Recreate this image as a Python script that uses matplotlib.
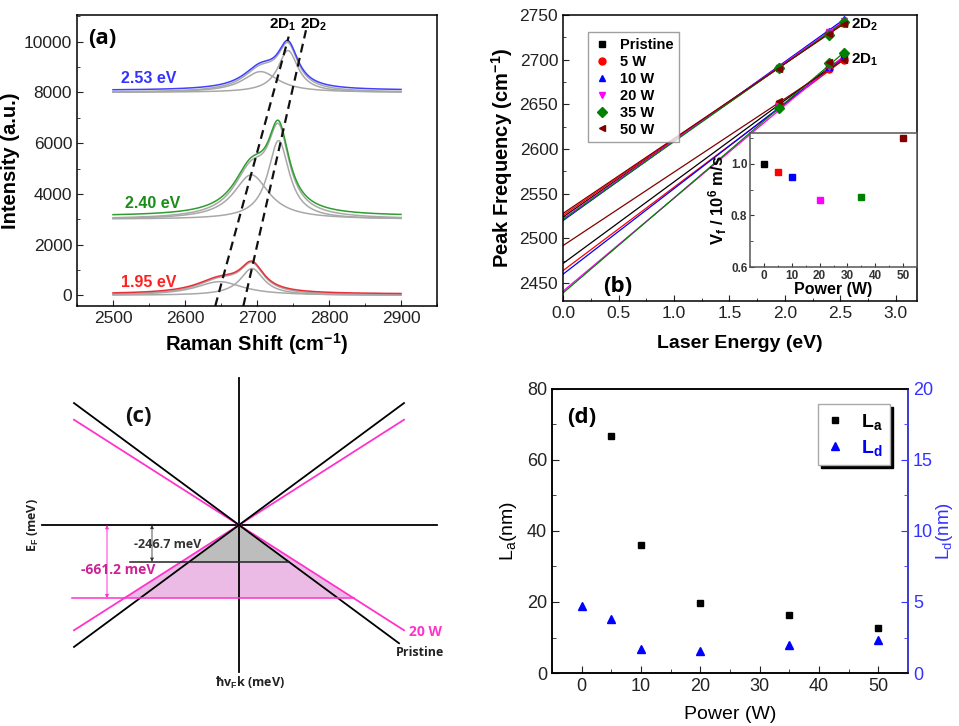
import numpy as np
import matplotlib
matplotlib.use("Agg")
import matplotlib.pyplot as plt
from matplotlib.ticker import MultipleLocator
from matplotlib.lines import Line2D

plt.rcParams['font.family'] = ['Liberation Sans', 'DejaVu Sans']
plt.rcParams['mathtext.fontset'] = 'custom'
plt.rcParams['mathtext.rm'] = 'Liberation Sans'
plt.rcParams['mathtext.bf'] = 'Liberation Sans:bold'
plt.rcParams['mathtext.it'] = 'Liberation Sans:italic'
plt.rcParams['axes.linewidth'] = 1.1

# ---------------- Panel (a) data: Lorentzian fit parameters ----------------
spec_labels = ['1.95 eV', '2.40 eV', '2.53 eV']
spec_offsets = [0, 3000, 8000]
spec_extra = [50, 120, 80]
pos_2D1 = [2648, 2692, 2705]
pos_2D2 = [2693, 2730, 2743]
amp_2D1 = [540, 1750, 820]
amp_2D2 = [1060, 3100, 1650]
fwhm_2D1 = [80, 60, 60]
fwhm_2D2 = [40, 36, 34]
spec_colors = ['#e8303a', '#2e9e2e', '#4040ff']
label_colors = ['#ff2020', '#1a8c1a', '#3333ff']
label_x = [2549, 2555, 2549]
label_y = [525, 3640, 8529]
dash_x_bottom = [2642, 2681]
dash_x_top = [2744, 2768]
dash_y_top = [10200, 10450]

# ---------------- Panel (b) data ----------------
laser_E = [1.95, 2.40, 2.53]
samples = ['Pristine', '5 W', '10 W', '20 W', '35 W', '50 W']
samp_colors = ['#000000', '#ff0000', '#0000ff', '#ff00ff', '#008000', '#800000']
samp_markers = ['s', 'o', '^', 'v', 'D', '<']
d1_points = [[2651, 2693, 2703], [2650, 2690, 2700], [2648, 2692, 2703],
             [2648, 2692, 2705], [2646, 2696, 2708], [2654, 2697, 2700]]
d2_points = [[2691, 2730, 2741], [2691, 2730, 2741], [2693, 2732, 2745],
             [2691, 2731, 2743], [2691, 2728, 2742], [2690, 2729, 2740]]
d1_intercept = [2472, 2464, 2460, 2441, 2439, 2492]
d1_slope = [91.3, 93.3, 95.7, 104.0, 106.3, 82.2]
d2_intercept = [2524, 2526, 2520, 2522, 2521, 2528]
d2_slope = [85.8, 85.0, 88.9, 87.4, 87.4, 83.8]
inset_power = [0, 5, 10, 20, 35, 50]
inset_vf = [1.00, 0.97, 0.95, 0.86, 0.87, 1.10]

# ---------------- Panel (c) schematic ----------------
cone_slopes = [0.739, 0.638]          # pristine, 20 W
cone_colors = ['#000000', '#ff33cc']
fermi_depth = [36.7, 73.3]            # schematic depth
fermi_labels = ['-246.7 meV', '-661.2 meV']

# ---------------- Panel (d) data ----------------
La_power = [5, 10, 20, 35, 50]
La_vals = [66.7, 36.0, 19.7, 16.4, 12.8]
Ld_power = [0, 5, 10, 20, 35, 50]
Ld_vals = [4.7, 3.8, 1.67, 1.55, 1.95, 2.3]

fig = plt.figure(figsize=(9.59, 7.26), dpi=100)

def lor(x, x0, a, w):
    g = w / 2.0
    return a * g * g / ((x - x0) ** 2 + g * g)

# ============ (a) ============
axa = fig.add_axes([0.0803, 0.5785, 0.3754, 0.4008])
x = np.linspace(2500, 2900, 801)
for i in range(3):
    l1 = lor(x, pos_2D1[i], amp_2D1[i], fwhm_2D1[i])
    l2 = lor(x, pos_2D2[i], amp_2D2[i], fwhm_2D2[i])
    off = spec_offsets[i]
    axa.plot(x, off + l1, color='#a8a8a8', lw=1.1)
    axa.plot(x, off + l2, color='#a8a8a8', lw=1.1)
    axa.plot(x, off + l1 + l2, color='#a8a8a8', lw=1.1)
    axa.plot(x, off + l1 + l2 + spec_extra[i], color=spec_colors[i], lw=1.1)
    axa.text(label_x[i], label_y[i], spec_labels[i], color=label_colors[i],
             fontsize=11.5, fontweight='bold', ha='center', va='center')
for j in range(2):
    axa.plot([dash_x_bottom[j], dash_x_top[j]], [-420, dash_y_top[j]],
             ls=(0, (4, 2.5)), color='#111111', lw=1.6)
axa.text(2736, 10658, r'$\mathbf{2D_1}$', fontsize=11, ha='center', va='center')
axa.text(2779, 10658, r'$\mathbf{2D_2}$', fontsize=11, ha='center', va='center')
lfont = ['Open Sans', 'DejaVu Sans']
axa.text(0.069, 0.921, '(a)', transform=axa.transAxes, fontsize=16,
         fontweight='bold', ha='center', va='center', family=lfont)
axa.set_xlim(2450, 2950)
axa.set_ylim(-420, 11050)
axa.set_xticks([2500, 2600, 2700, 2800, 2900])
axa.xaxis.set_minor_locator(MultipleLocator(50))
axa.set_yticks([0, 2000, 4000, 6000, 8000, 10000])
axa.yaxis.set_minor_locator(MultipleLocator(1000))
axa.tick_params(which='both', direction='in', labelsize=12.5, colors='#222222')
axa.tick_params(which='major', length=4)
axa.tick_params(which='minor', length=2.5)
axa.set_xlabel('Raman Shift (cm$^{\\mathbf{-1}}$)', fontsize=14.5, fontweight='bold', labelpad=4)
axa.set_ylabel('Intensity (a.u.)', fontsize=14.5, fontweight='bold', labelpad=3)

# ============ (b) ============
axb = fig.add_axes([0.5871, 0.5854, 0.3691, 0.3939])
xl = np.linspace(0, 2.55, 50)
handles = []
for k in range(6):
    c = samp_colors[k]
    axb.plot(xl, d1_intercept[k] + d1_slope[k] * xl, color=c, lw=0.9)
    axb.plot(xl, d2_intercept[k] + d2_slope[k] * xl, color=c, lw=0.9)
for k in range(6):
    c = samp_colors[k]
    axb.plot(laser_E, d1_points[k], ls='none', marker=samp_markers[k], color=c, ms=5)
    axb.plot(laser_E, d2_points[k], ls='none', marker=samp_markers[k], color=c, ms=5)
    handles.append(Line2D([], [], ls='none', marker=samp_markers[k], color=c, ms=5))
leg = axb.legend(handles, samples, loc='upper left', bbox_to_anchor=(0.07, 0.94),
                 borderaxespad=0, fancybox=False, edgecolor='#888888',
                 prop={'weight': 'bold', 'size': 10.5}, labelspacing=0.2,
                 handletextpad=0.6, handlelength=1.2, borderpad=0.4)
leg.get_frame().set_linewidth(1.0)
axb.text(2.718, 2739.6, r'$\mathbf{2D_2}$', fontsize=11, ha='center', va='center')
axb.text(2.718, 2700.4, r'$\mathbf{2D_1}$', fontsize=11, ha='center', va='center')
axb.text(0.155, 0.049, '(b)', transform=axb.transAxes, fontsize=16,
         fontweight='bold', ha='center', va='center', family=lfont)
axb.set_xlim(0, 3.19)
axb.set_ylim(2430, 2750)
axb.set_xticks([0, 0.5, 1.0, 1.5, 2.0, 2.5, 3.0])
axb.xaxis.set_minor_locator(MultipleLocator(0.25))
axb.set_yticks([2450, 2500, 2550, 2600, 2650, 2700, 2750])
axb.yaxis.set_minor_locator(MultipleLocator(25))
axb.tick_params(which='both', direction='in', labelsize=12.5, colors='#222222')
axb.tick_params(which='major', length=4)
axb.tick_params(which='minor', length=2.5)
axb.set_xlabel('Laser Energy (eV)', fontsize=14, fontweight='bold', labelpad=10)
axb.set_ylabel('Peak Frequency (cm$^{\\mathbf{-1}}$)', fontsize=14.5, fontweight='bold', labelpad=3)

# inset
axi = fig.add_axes([0.7821, 0.6322, 0.1741, 0.1846])
for k in range(6):
    axi.plot([inset_power[k]], [inset_vf[k]], ls='none', marker='s',
             color=samp_colors[k], ms=4.5)
axi.set_xlim(-5, 55)
axi.set_ylim(0.6, 1.12)
axi.set_xticks([0, 10, 20, 30, 40, 50])
axi.xaxis.set_minor_locator(MultipleLocator(5))
axi.set_yticks([0.6, 0.8, 1.0])
axi.yaxis.set_minor_locator(MultipleLocator(0.1))
axi.tick_params(which='both', direction='in', labelsize=8.5, colors='#333333', pad=2)
axi.tick_params(which='major', length=3)
axi.tick_params(which='minor', length=1.8)
for t in axi.get_xticklabels() + axi.get_yticklabels():
    t.set_fontweight('bold')
axi.set_xlabel('Power (W)', fontsize=11.5, fontweight='bold', labelpad=0)
axi.set_ylabel('V$_\\mathbf{f}$ / 10$^\\mathbf{6}$ m/s', fontsize=12, fontweight='bold', labelpad=1)
for s in axi.spines.values():
    s.set_color('#555555')

# ============ (c) ============
axc = fig.add_axes([0, 0, 480 / 959, 366 / 726])
axc.set_xlim(-239, 241)
axc.set_ylim(-201, 165)
axc.axis('off')
sb, sp = cone_slopes
dp = fermi_depth[1]
axc.fill([0, -dp / sp, dp / sp], [0, -dp, -dp], color='#ebbbe6', lw=0, zorder=1)
db = fermi_depth[0]
axc.fill([0, -db / sb, db / sb], [0, -db, -db], color='#bdbdbd', lw=0, zorder=2)
axc.plot([-197, 198], [0, 0], color='k', lw=1.3, zorder=3)
axc.plot([0, 0], [-147, 147], color='k', lw=1.3, zorder=3)
kx = np.array([-165, 165])
axc.plot(kx, sp * kx, color=cone_colors[1], lw=1.3, zorder=4)
axc.plot(kx, -sp * kx, color=cone_colors[1], lw=1.3, zorder=4)
axc.plot(kx, sb * kx, color=cone_colors[0], lw=1.3, zorder=5)
axc.plot(np.array([-165, 160]), -sb * np.array([-165, 160]), color=cone_colors[0], lw=1.3, zorder=5)
axc.plot([-109, db / sb], [-db, -db], color='#222222', lw=1.1, zorder=6)
axc.plot([-167, dp / sp], [-dp, -dp], color=cone_colors[1], lw=1.1, zorder=6)
axc.annotate('', xy=(-87, -db), xytext=(-87, 0),
             arrowprops=dict(arrowstyle='<|-|>', color='#333333', lw=0.6,
                             mutation_scale=5, shrinkA=0, shrinkB=0), zorder=6)
axc.annotate('', xy=(-132, -dp), xytext=(-132, 0),
             arrowprops=dict(arrowstyle='<|-|>', color=cone_colors[1], lw=0.7,
                             mutation_scale=5, shrinkA=0, shrinkB=0), zorder=6)
cfont = lfont
axc.text(-71, -19, fermi_labels[0], color='#333333', fontsize=9, fontweight='bold',
         ha='center', va='center', family=cfont, zorder=7)
axc.text(-121, -45, fermi_labels[1], color='#cc2299', fontsize=10, fontweight='bold',
         ha='center', va='center', family=cfont, zorder=7)
axc.text(186, -107, '20 W', color='#ff33cc', fontsize=10, fontweight='bold',
         ha='center', va='center', family=cfont)
axc.text(181, -128, 'Pristine', color='#222222', fontsize=9, fontweight='bold',
         ha='center', va='center', family=cfont)
axc.text(11, -158, 'ħv$_\\mathbf{F}$k (meV)', color='#222222', fontsize=9, fontweight='bold',
         ha='center', va='center', family=cfont)
axc.text(-206, 0, 'E$_\\mathbf{F}$ (meV)', color='#222222', fontsize=9, fontweight='bold',
         ha='center', va='center', rotation=90, family=cfont)
axc.text(-101, 108, '(c)', color='#111111', fontsize=16, fontweight='bold',
         ha='center', va='center', family=cfont)

# ============ (d) ============
axd = fig.add_axes([0.5756, 0.0730, 0.3712, 0.3912])
axd2 = axd.twinx()
axd.plot(La_power, La_vals, ls='none', marker='s', color='k', ms=4.5)
axd2.plot(Ld_power, Ld_vals, ls='none', marker='^', color='#0000ff', ms=5.5)
axd.set_xlim(-5, 55)
axd.set_ylim(0, 80)
axd2.set_ylim(0, 20)
axd.set_xticks([0, 10, 20, 30, 40, 50])
axd.xaxis.set_minor_locator(MultipleLocator(5))
axd.set_yticks([0, 20, 40, 60, 80])
axd.yaxis.set_minor_locator(MultipleLocator(10))
axd2.set_yticks([0, 5, 10, 15, 20])
axd2.yaxis.set_minor_locator(MultipleLocator(2.5))
axd.tick_params(which='both', direction='in', labelsize=13, colors='#222222')
axd.tick_params(which='major', length=5)
axd.tick_params(which='minor', length=3)
axd2.tick_params(which='both', direction='in', labelsize=13, colors='#3333ff')
axd2.tick_params(which='major', length=5)
axd2.tick_params(which='minor', length=3)
axd2.spines['right'].set_color('#4444ff')
axd.set_xlabel('Power (W)', fontsize=14, labelpad=8)
axd.set_ylabel('L$_\\mathrm{a}$(nm)', fontsize=14, labelpad=6)
axd2.set_ylabel('L$_\\mathrm{d}$(nm)', fontsize=13.5, color='#3333ff', labelpad=1)
h1 = Line2D([], [], ls='none', marker='s', color='k', ms=4.5)
h2 = Line2D([], [], ls='none', marker='^', color='#0000ff', ms=5.5)
legd = axd2.legend([h1, h2], [r'$\mathbf{L_a}$', r'$\mathbf{L_d}$'], loc='upper right',
                   bbox_to_anchor=(0.95, 0.947), borderaxespad=0, fancybox=False,
                   edgecolor='#aaaaaa', shadow={'color': 'black', 'alpha': 1.0},
                   fontsize=14, labelspacing=0.3, handlelength=1.0, handletextpad=0.8,
                   borderpad=0.4)
legd.get_texts()[1].set_color('#0000ff')
axd.text(0.05, 72.1, '(d)', fontsize=16, fontweight='bold', ha='center', va='center',
         family=lfont)

fig.savefig('out.png', dpi=100)
